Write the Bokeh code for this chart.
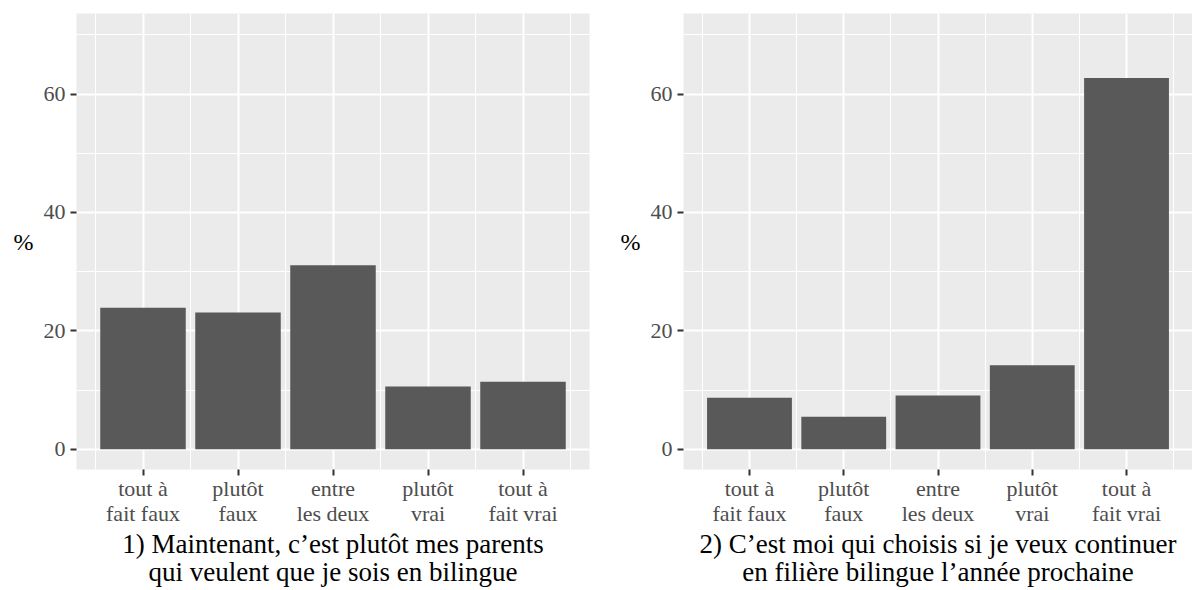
from bokeh.plotting import figure
from bokeh.layouts import row
from bokeh.models import FixedTicker, ColumnDataSource
from bokeh.embed import file_html
from bokeh.resources import INLINE

categories = ["tout à\nfait faux", "plutôt\nfaux", "entre\nles deux", "plutôt\nvrai", "tout à\nfait vrai"]
values_1 = [23.9, 23.1, 31.1, 10.6, 11.4]
values_2 = [8.7, 5.5, 9.1, 14.2, 62.7]
title_1 = "1) Maintenant, c\u2019est plutôt mes parents\nqui veulent que je sois en bilingue"
title_2 = "2) C\u2019est moi qui choisis si je veux continuer\nen filière bilingue l\u2019année prochaine"
y_ticks = [0, 20, 40, 60]
y_minor = [10, 30, 50, 70]

FONT = "Liberation Serif"


def make_panel(values, title, width, left, right):
    positions = list(range(1, len(categories) + 1))
    src = ColumnDataSource(dict(x=positions, top=values))
    p = figure(width=width, height=590, x_range=(0.3, len(categories) + 0.7),
               y_range=(-3.4, 73.6), output_backend="svg", toolbar_location=None,
               min_border_left=left, min_border_right=right, min_border_top=13,
               min_border_bottom=120)
    p.vbar(x="x", top="top", width=0.9, bottom=0, source=src,
           fill_color="#595959", line_color=None)
    p.background_fill_color = "#EBEBEB"
    p.border_fill_color = "white"
    p.outline_line_color = None

    p.xaxis.ticker = FixedTicker(ticks=positions,
                                 minor_ticks=[i + 0.5 for i in range(0, len(categories) + 1)])
    p.xaxis.major_label_overrides = {i: c for i, c in zip(positions, categories)}
    p.yaxis.ticker = FixedTicker(ticks=y_ticks, minor_ticks=y_minor)

    for ax in (p.xaxis[0], p.yaxis[0]):
        ax.axis_line_color = None
        ax.major_tick_in = 0
        ax.major_tick_out = 6
        ax.major_tick_line_color = "#333333"
        ax.major_tick_line_width = 2
        ax.minor_tick_line_color = None
        ax.major_label_text_font = FONT
        ax.major_label_text_font_size = "22px"
        ax.major_label_text_color = "#4D4D4D"
        ax.major_label_standoff = 5

    p.xaxis.major_label_standoff = 0
    p.xaxis.major_label_text_line_height = 1.0
    p.xaxis.axis_label = title
    p.xaxis.axis_label_text_font = FONT
    p.xaxis.axis_label_text_font_size = "27px"
    p.xaxis.axis_label_text_font_style = "normal"
    p.xaxis.axis_label_text_color = "black"
    p.xaxis.axis_label_text_line_height = 0.95
    p.xaxis.axis_label_standoff = 0

    yax = p.yaxis[0]
    yax.axis_label = "%"
    yax.axis_label_text_font = FONT
    yax.axis_label_text_font_size = "24px"
    yax.axis_label_text_font_style = "normal"
    yax.axis_label_text_color = "black"
    yax.axis_label_standoff = 7
    if "axis_label_orientation" in yax.properties():
        yax.axis_label_orientation = "horizontal"

    p.xgrid.grid_line_color = "white"
    p.xgrid.grid_line_width = 2
    p.xgrid.minor_grid_line_color = "white"
    p.xgrid.minor_grid_line_width = 1
    p.ygrid.grid_line_color = "white"
    p.ygrid.grid_line_width = 2
    p.ygrid.minor_grid_line_color = "white"
    p.ygrid.minor_grid_line_width = 1
    return p


p1 = make_panel(values_1, title_1, 600, 76, 11)
p2 = make_panel(values_2, title_2, 592, 83, 0)
layout = row(p1, p2, spacing=0)

open("out.html", "w").write(file_html(layout, INLINE))
